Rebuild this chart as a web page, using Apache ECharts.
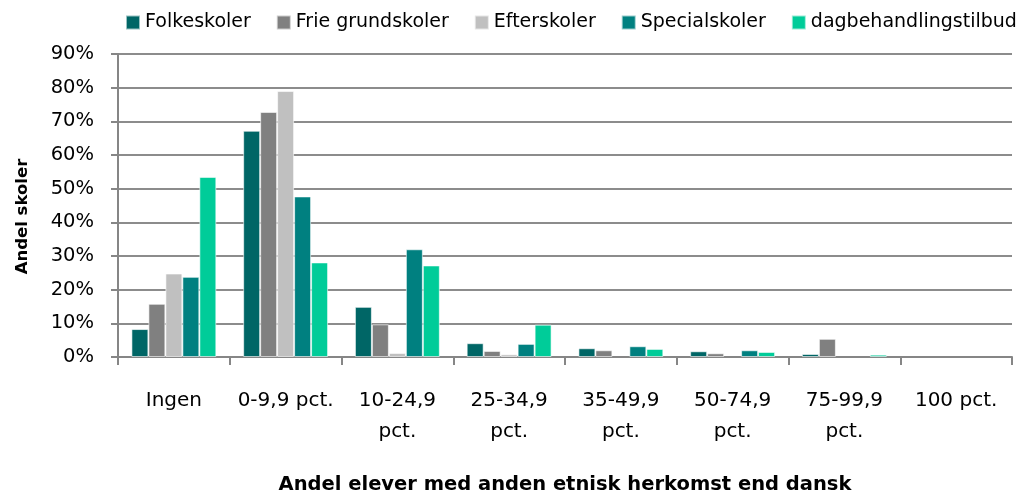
<!DOCTYPE html>
<html><head><meta charset="utf-8">
<script src="https://cdn.jsdelivr.net/npm/echarts@6/dist/echarts.min.js"></script>
<style>html,body{margin:0;padding:0;background:#fff}#c{width:1025px;height:496px}</style>
</head><body><div id="c"></div>
<script>
const categories = ["Ingen", "0-9,9 pct.", "10-24,9 pct.", "25-34,9 pct.", "35-49,9 pct.", "50-74,9 pct.", "75-99,9 pct.", "100 pct."];
const folkeskoler = [8.3, 67.2, 14.9, 4.1, 2.6, 1.7, 0.9, 0];
const frieGrundskoler = [15.8, 72.8, 9.7, 1.8, 2.0, 1.1, 5.4, 0];
const efterskoler = [24.8, 79.0, 1.2, 0.8, 0, 0, 0, 0];
const specialskoler = [23.8, 47.7, 32.0, 3.9, 3.2, 2.0, 0, 0];
const dagbehandling = [53.5, 28.1, 27.2, 9.6, 2.4, 1.5, 0.7, 0];
const yTicks = [0, 10, 20, 30, 40, 50, 60, 70, 80, 90];

const FONT = "'DejaVu Sans', sans-serif";
function wrapLabel(s){
  if (s === "Ingen" || s === "0-9,9 pct." || s === "100 pct.") return s;
  return s.replace(" pct.", "\npct.");
}
const seriesDefs = [
  ["Folkeskoler", folkeskoler, "#006666"],
  ["Frie grundskoler", frieGrundskoler, "#808080"],
  ["Efterskoler", efterskoler, "#C0C0C0"],
  ["Specialskoler", specialskoler, "#008080"],
  ["dagbehandlingstilbud", dagbehandling, "#00CC99"]
];
const chart = echarts.init(document.getElementById('c'));
chart.setOption({
  animation: false,
  textStyle: {fontFamily: FONT},
  legend: {
    top: 13, left: 125, width: 960, itemWidth: 14, itemHeight: 14, itemGap: 25,
    icon: 'rect', padding: 0,
    textStyle: {fontFamily: FONT, fontSize: 19, color: '#000'},
    data: seriesDefs.map(d => d[0])
  },
  grid: {left: 118, right: 13, top: 54, bottom: 139, containLabel: false, outerBoundsMode: 'none'},
  xAxis: {
    type: 'category', data: categories,
    name: 'Andel elever med anden etnisk herkomst end dansk',
    nameLocation: 'middle', nameGap: 118,
    nameTextStyle: {fontFamily: FONT, fontSize: 19.5, fontWeight: 'bold', color: '#000'},
    axisLine: {lineStyle: {color: '#868686', width: 2}},
    axisTick: {show: true, length: 8, lineStyle: {color: '#868686', width: 2}, alignWithLabel: false},
    axisLabel: {fontFamily: FONT, fontSize: 20, color: '#000', margin: 28, lineHeight: 31, formatter: wrapLabel, interval: 0}
  },
  yAxis: {
    type: 'value', min: 0, max: 90, interval: 10,
    name: 'Andel skoler', nameLocation: 'middle', nameGap: 87, nameRotate: 90,
    nameTextStyle: {fontFamily: FONT, fontSize: 16.5, fontWeight: 'bold', color: '#000', padding: [0, 22, 0, 0]},
    axisLine: {show: true, lineStyle: {color: '#868686', width: 2}},
    axisTick: {show: true, length: 7, lineStyle: {color: '#868686', width: 2}},
    axisLabel: {fontFamily: FONT, fontSize: 19.5, color: '#000', margin: 24,
      formatter: v => yTicks.includes(v) ? v + '%' : ''},
    splitLine: {show: true, lineStyle: {color: '#8c8c8c', width: 2}}
  },
  series: seriesDefs.map(d => ({
    name: d[0], type: 'bar', data: d[1].map(v => v === 0 ? null : v),
    barGap: '0%', barCategoryGap: '24%',
    itemStyle: {color: d[2], borderColor: 'rgba(255,255,255,0.6)', borderWidth: 1}
  }))
});
</script></body></html>
